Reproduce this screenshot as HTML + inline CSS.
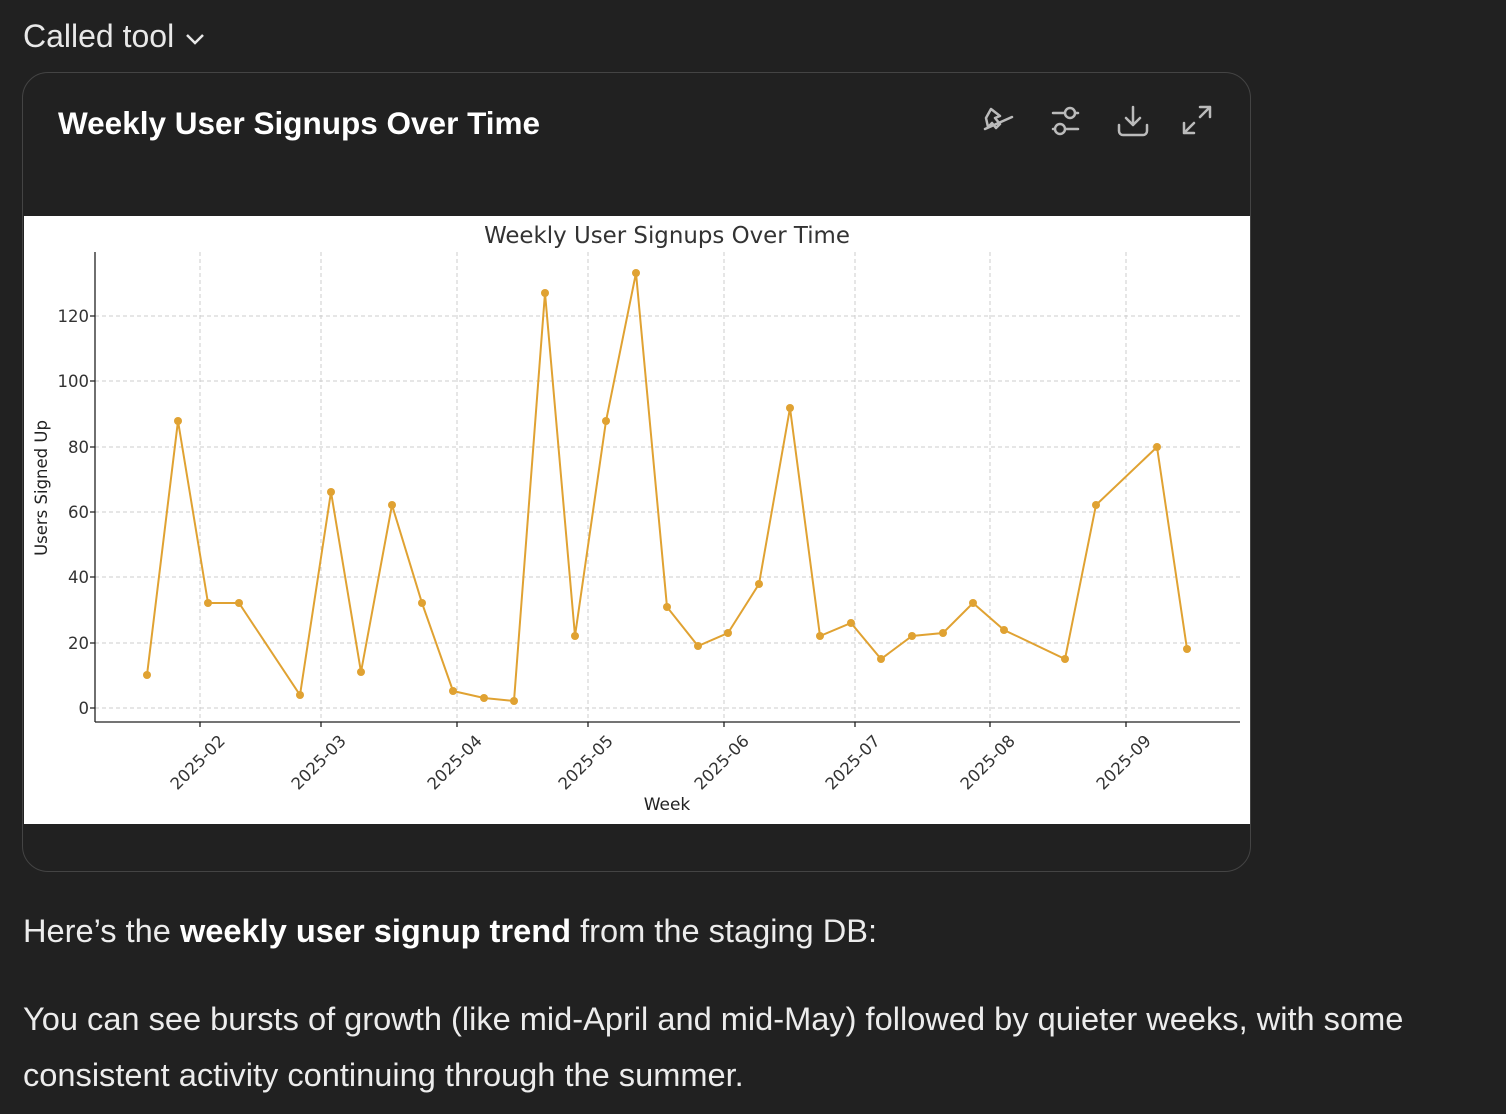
<!DOCTYPE html>
<html><head><style>
body{margin:0;background:#212121;width:1506px;height:1114px;overflow:hidden;font-family:"Liberation Sans",sans-serif;color:#ececec}
.ct{position:absolute;left:23px;top:18px;font-size:32px;color:#e8e8e8}
.card{position:absolute;left:22px;top:72px;width:1227px;height:798px;border:1px solid #444;border-radius:26px;background:#212121;overflow:hidden}
.title{position:absolute;left:35px;top:32px;font-size:31.5px;font-weight:bold;color:#fff}
.chart{position:absolute;left:1px;top:143px;width:1226px;height:608px;background:#fff}
p{position:absolute;left:23px;margin:0;font-size:32.6px;line-height:56px;color:#ececec;white-space:nowrap}
</style></head><body>
<div class="ct">Called tool <svg width="24" height="16" viewBox="0 0 24 16" style="vertical-align:middle"><path d="M4 4l8 8 8-8" stroke="#e8e8e8" stroke-width="2.5" fill="none"/></svg></div>
<div class="card">
<div class="title">Weekly User Signups Over Time</div>
<svg style="position:absolute;left:955px;top:30px" width="250" height="40" viewBox="0 0 250 40" fill="none" stroke="#bbb" stroke-width="2.5" stroke-linecap="round" stroke-linejoin="round">
<path d="M13 6l9 7-5 2 5 6-4 4-4-5-4 4-2-9z"/><line x1="7" y1="26" x2="34" y2="14"/>
<line x1="75" y1="10" x2="100" y2="10"/><circle cx="92" cy="10" r="5" fill="#212121"/><line x1="75" y1="26" x2="100" y2="26"/><circle cx="82" cy="26" r="5" fill="#212121"/>
<path d="M155 4v18M148 15l7 7 7-7M141 22v6a4 4 0 0 0 4 4h20a4 4 0 0 0 4-4v-6"/>
<path d="M222 4h10v10M232 4l-10 10M206 20v10h10M206 30l10-10"/>
</svg>
<div class="chart">
<svg width="1226" height="608" viewBox="24 216 1226 608" style="font-family:'DejaVu Sans',sans-serif">
<text x="667" y="243" font-size="22.9" text-anchor="middle" fill="#333">Weekly User Signups Over Time</text>
<g stroke="#ccc" stroke-dasharray="4,3" stroke-width="1">
<line x1="95" x2="1240" y1="708" y2="708"/><line x1="95" x2="1240" y1="643" y2="643"/><line x1="95" x2="1240" y1="577" y2="577"/><line x1="95" x2="1240" y1="512" y2="512"/><line x1="95" x2="1240" y1="447" y2="447"/><line x1="95" x2="1240" y1="381" y2="381"/><line x1="95" x2="1240" y1="316" y2="316"/>
<line x1="200" x2="200" y1="252" y2="722"/><line x1="321" x2="321" y1="252" y2="722"/><line x1="457" x2="457" y1="252" y2="722"/><line x1="588" x2="588" y1="252" y2="722"/><line x1="724" x2="724" y1="252" y2="722"/><line x1="855" x2="855" y1="252" y2="722"/><line x1="990" x2="990" y1="252" y2="722"/><line x1="1126" x2="1126" y1="252" y2="722"/>
</g>
<g stroke="#222" stroke-width="1.3"><line x1="95" y1="252" x2="95" y2="722"/><line x1="95" y1="722" x2="1240" y2="722"/>
<path d="M90 708h5M90 643h5M90 577h5M90 512h5M90 447h5M90 381h5M90 316h5M200 722v5M321 722v5M457 722v5M588 722v5M724 722v5M855 722v5M990 722v5M1126 722v5"/></g>
<g font-size="16.5" fill="#333" text-anchor="end">
<text x="89" y="714">0</text><text x="89" y="649">20</text><text x="89" y="583">40</text><text x="89" y="518">60</text><text x="89" y="453">80</text><text x="89" y="387">100</text><text x="89" y="322">120</text>
<text transform="translate(226,742) rotate(-45)">2025-02</text><text transform="translate(347,742) rotate(-45)">2025-03</text><text transform="translate(483,742) rotate(-45)">2025-04</text><text transform="translate(614,742) rotate(-45)">2025-05</text><text transform="translate(750,742) rotate(-45)">2025-06</text><text transform="translate(881,742) rotate(-45)">2025-07</text><text transform="translate(1016,742) rotate(-45)">2025-08</text><text transform="translate(1152,742) rotate(-45)">2025-09</text>
</g>
<text x="667" y="810" font-size="17" text-anchor="middle" fill="#222">Week</text>
<text transform="translate(47,488) rotate(-90)" font-size="16.5" text-anchor="middle" fill="#222">Users Signed Up</text>
<polyline fill="none" stroke="#e0a232" stroke-width="2" points="147,675 178,421 208,603 239,603 300,695 331,492 361,672 392,505 422,603 453,691 484,698 514,701 545,293 575,636 606,421 636,273 667,607 698,646 728,633 759,584 790,408 820,636 851,623 881,659 912,636 943,633 973,603 1004,630 1065,659 1096,505 1157,447 1187,649"/>
<g fill="#e0a232">
<circle cx="147" cy="675" r="4"/><circle cx="178" cy="421" r="4"/><circle cx="208" cy="603" r="4"/><circle cx="239" cy="603" r="4"/><circle cx="300" cy="695" r="4"/><circle cx="331" cy="492" r="4"/><circle cx="361" cy="672" r="4"/><circle cx="392" cy="505" r="4"/><circle cx="422" cy="603" r="4"/><circle cx="453" cy="691" r="4"/><circle cx="484" cy="698" r="4"/><circle cx="514" cy="701" r="4"/><circle cx="545" cy="293" r="4"/><circle cx="575" cy="636" r="4"/><circle cx="606" cy="421" r="4"/><circle cx="636" cy="273" r="4"/><circle cx="667" cy="607" r="4"/><circle cx="698" cy="646" r="4"/><circle cx="728" cy="633" r="4"/><circle cx="759" cy="584" r="4"/><circle cx="790" cy="408" r="4"/><circle cx="820" cy="636" r="4"/><circle cx="851" cy="623" r="4"/><circle cx="881" cy="659" r="4"/><circle cx="912" cy="636" r="4"/><circle cx="943" cy="633" r="4"/><circle cx="973" cy="603" r="4"/><circle cx="1004" cy="630" r="4"/><circle cx="1065" cy="659" r="4"/><circle cx="1096" cy="505" r="4"/><circle cx="1157" cy="447" r="4"/><circle cx="1187" cy="649" r="4"/>
</g>
</svg>
</div>
</div>
<p style="top:903px">Here’s the <b style="color:#fff">weekly user signup trend</b> from the staging DB:</p>
<p style="top:991px">You can see bursts of growth (like mid-April and mid-May) followed by quieter weeks, with some<br>consistent activity continuing through the summer.</p>
</body></html>
